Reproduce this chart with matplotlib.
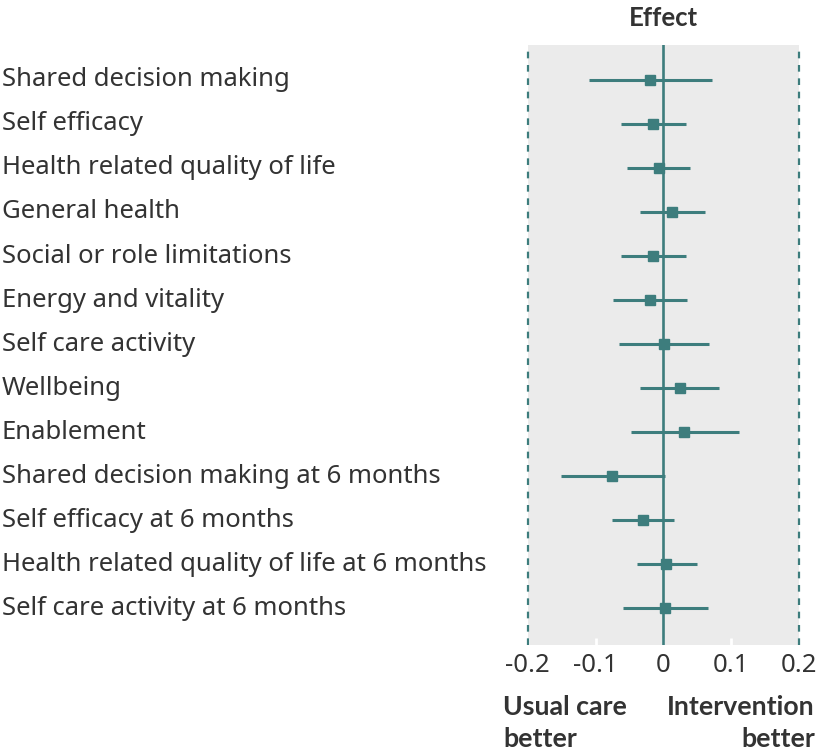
import matplotlib
matplotlib.use("Agg")
import matplotlib.pyplot as plt
import matplotlib.transforms as mtransforms

outcomes = [
    "Shared decision making",
    "Self efficacy",
    "Health related quality of life",
    "General health",
    "Social or role limitations",
    "Energy and vitality",
    "Self care activity",
    "Wellbeing",
    "Enablement",
    "Shared decision making at 6 months",
    "Self efficacy at 6 months",
    "Health related quality of life at 6 months",
    "Self care activity at 6 months",
]
effect = [-0.020, -0.015, -0.007, 0.013, -0.015, -0.020, 0.0015, 0.024, 0.030, -0.075, -0.030, 0.004, 0.002]
lower = [-0.109, -0.063, -0.053, -0.035, -0.062, -0.074, -0.065, -0.035, -0.048, -0.151, -0.075, -0.039, -0.060]
upper = [0.071, 0.033, 0.040, 0.061, 0.033, 0.035, 0.068, 0.082, 0.111, 0.002, 0.015, 0.049, 0.066]
xticks = [-0.2, -0.1, 0, 0.1, 0.2]
xticklabels = ["-0.2", "-0.1", "0", "0.1", "0.2"]

plt.rcParams['font.family'] = ['Noto Sans', 'DejaVu Sans']
BOLD = ['Lato', 'DejaVu Sans']
TEAL = "#3d7d7d"
TXT = "#333333"
W, H = 820, 756
fig = plt.figure(figsize=(W / 100, H / 100), dpi=100)
ax = fig.add_axes([527.7 / W, 1 - 645 / H, (799 - 527.7) / W, (645 - 45) / H])
ax.set_facecolor("#ebebeb")
for s in ax.spines.values():
    s.set_visible(False)

n = len(outcomes)
ys = list(range(n))
ax.set_xlim(-0.2, 0.2)
ax.set_ylim(n - 1 + 0.84, -0.795)

ax.axvline(0, color=TEAL, lw=1.9, zorder=2)
for xv in (-0.2, 0.2):
    ax.axvline(xv, color=TEAL, lw=1.6, ls=(0, (3, 3)), clip_on=False, zorder=3)

ax.hlines(ys, lower, upper, color=TEAL, lw=2.2, zorder=3)
ax.plot(effect, ys, ls="none", marker="s", ms=7.5, color=TEAL, zorder=4)

ax.set_yticks([])
ax.set_xticks(xticks)
ax.set_xticklabels(xticklabels, fontsize=18.5, color=TXT)
ax.tick_params(axis="x", direction="in", color="white", length=5, width=2, pad=6)

trans = mtransforms.blended_transform_factory(fig.transFigure, ax.transData)
for y, lab in zip(ys, outcomes):
    ax.text(2 / W, y, lab, transform=trans, ha="left", va="center", fontsize=18.5, color=TXT)

fig.text(663 / W, 1 - 18 / H, "Effect", ha="center", va="center", fontsize=18.5, fontweight="bold",
         color=TXT, family=BOLD)
fig.text(503 / W, 1 - 723 / H, "Usual care\nbetter", ha="left", va="center", fontsize=19.3,
         fontweight="bold", color=TXT, linespacing=1.4, family=BOLD)
fig.text(815 / W, 1 - 723 / H, "Intervention\nbetter", ha="right", va="center", fontsize=19.3,
         fontweight="bold", color=TXT, linespacing=1.4, multialignment="right", family=BOLD)

fig.savefig("out.png", dpi=100)
